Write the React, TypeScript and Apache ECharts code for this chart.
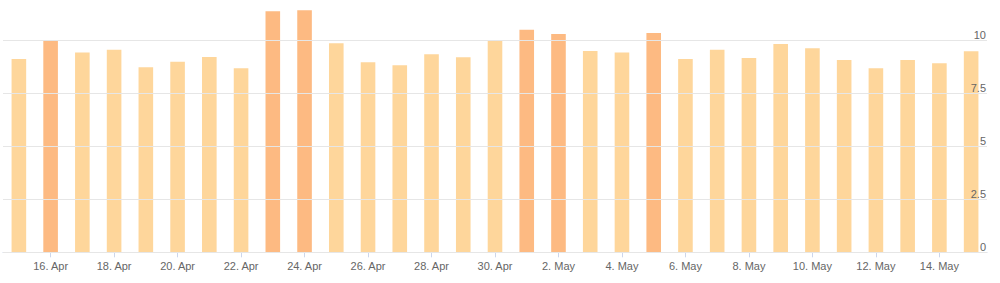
import React, { useEffect, useRef } from "react";
import * as echarts from "echarts";

const categories: string[] = [
  "15. Apr", "16. Apr", "17. Apr", "18. Apr", "19. Apr", "20. Apr", "21. Apr", "22. Apr",
  "23. Apr", "24. Apr", "25. Apr", "26. Apr", "27. Apr", "28. Apr", "29. Apr", "30. Apr",
  "1. May", "2. May", "3. May", "4. May", "5. May", "6. May", "7. May", "8. May",
  "9. May", "10. May", "11. May", "12. May", "13. May", "14. May", "15. May",
];

const values: number[] = [
  9.12, 10.01, 9.43, 9.56, 8.73, 8.99, 9.21, 8.68,
  11.37, 11.42, 9.86, 8.96, 8.82, 9.34, 9.2, 9.97,
  10.5, 10.3, 9.5, 9.43, 10.34, 9.12, 9.56, 9.17,
  9.83, 9.62, 9.07, 8.68, 9.07, 8.92, 9.48,
];

const yTicks: number[] = [0, 2.5, 5, 7.5, 10];
const highlightThreshold = 10;

const LIGHT = "#fed69b";
const DARK = "#fdba82";

export default function App() {
  const ref = useRef<HTMLDivElement>(null);

  useEffect(() => {
    if (!ref.current) return;
    const chart = echarts.init(ref.current, undefined, { renderer: "svg" });
    const font = "Arial, 'Liberation Sans', Helvetica, sans-serif";
    chart.setOption({
      animation: false,
      grid: { left: 3, right: 13, top: 40.3, bottom: 30.7, containLabel: false },
      xAxis: {
        type: "category",
        data: categories,
        boundaryGap: true,
        axisLine: { show: true, lineStyle: { color: "#ccd6eb", width: 1 } },
        axisTick: {
          show: true,
          alignWithLabel: true,
          interval: (i: number) => i % 2 === 1,
          length: 5,
          lineStyle: { color: "#ccd6eb" },
        },
        axisLabel: {
          interval: (i: number) => i % 2 === 1,
          color: "#666666",
          fontSize: 11,
          fontFamily: font,
          margin: 8,
        },
        splitLine: { show: false },
      },
      yAxis: {
        type: "value",
        position: "right",
        z: 10,
        min: yTicks[0],
        max: yTicks[yTicks.length - 1],
        interval: yTicks[1] - yTicks[0],
        axisLine: { show: false },
        axisTick: { show: false },
        axisLabel: {
          inside: true,
          margin: 1,
          color: "#666666",
          fontSize: 11,
          fontFamily: font,
          verticalAlign: "bottom",
          formatter: (v: number) => String(v),
        },
        splitLine: { show: true, lineStyle: { color: "#e6e6e6", width: 1 } },
      },
      series: [
        {
          type: "bar",
          data: values,
          barWidth: "46%",
          clip: false,
          z: 2,
          itemStyle: {
            color: (p: any) => (p.value >= highlightThreshold ? DARK : LIGHT),
          },
        },
      ],
    });
    return () => chart.dispose();
  }, []);

  return (
    <div
      ref={ref}
      style={{ position: "fixed", left: 0, top: 0, width: 1000, height: 283, background: "#ffffff" }}
    />
  );
}
